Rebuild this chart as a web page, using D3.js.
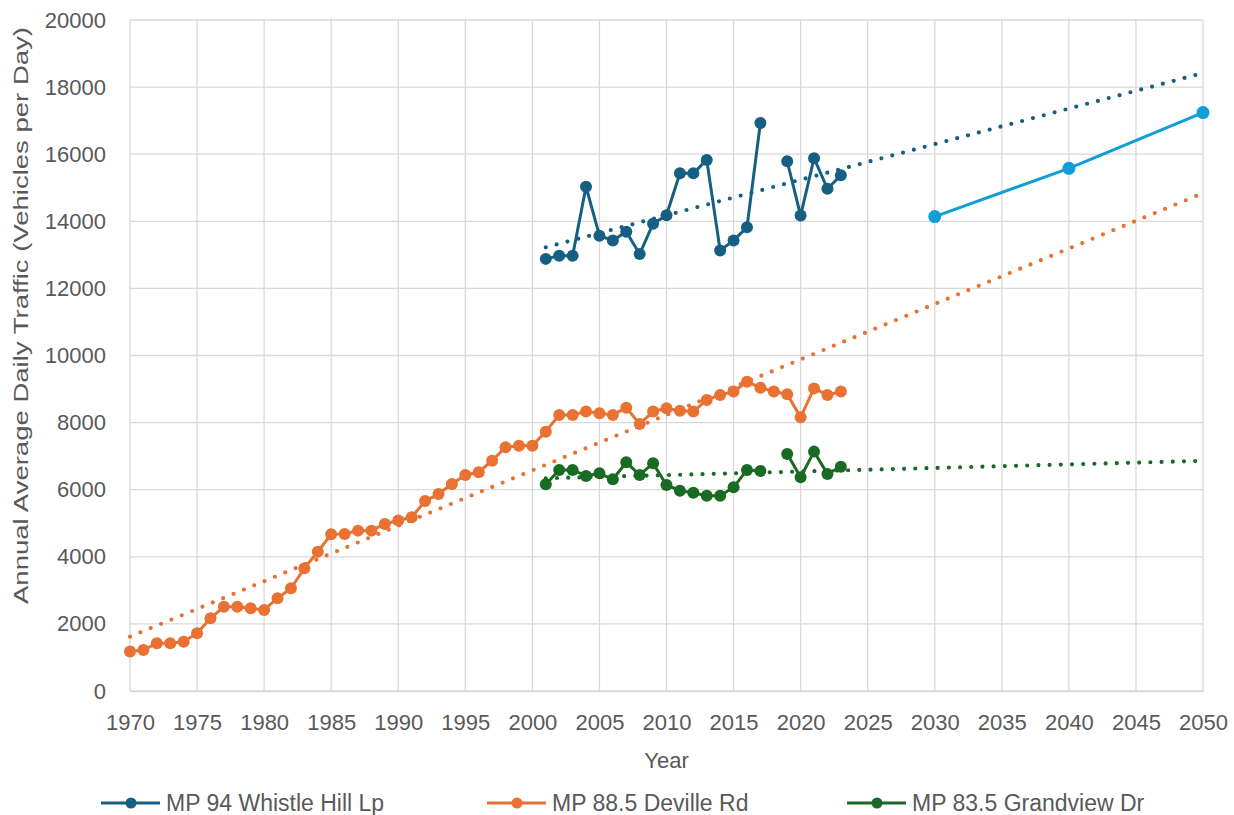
<!DOCTYPE html>
<html>
<head>
<meta charset="utf-8">
<script src="https://cdn.jsdelivr.net/npm/d3@7"></script>
<style>
  html, body { margin: 0; padding: 0; background: #ffffff; }
  svg text { font-family: "Liberation Sans", Arial, sans-serif; fill: #595959; }
</style>
</head>
<body>
<svg id="chart" width="1234" height="815"></svg>
<script>
// ---------- DATA ----------
const blueYears = [2001,2002,2003,2004,2005,2006,2007,2008,2009,2010,2011,2012,2013,2014,2015,2016,2017,2018,2019,2020,2021,2022,2023];
const blueValues = [12880,12975,12975,15030,13570,13430,13690,13025,13930,14180,15430,15430,15830,13130,13430,13820,16930,null,15790,14170,15880,14970,15370];

const orangeYears = [1970,1971,1972,1973,1974,1975,1976,1977,1978,1979,
                     1980,1981,1982,1983,1984,1985,1986,1987,1988,1989,
                     1990,1991,1992,1993,1994,1995,1996,1997,1998,1999,
                     2000,2001,2002,2003,2004,2005,2006,2007,2008,2009,
                     2010,2011,2012,2013,2014,2015,2016,2017,2018,2019,
                     2020,2021,2022,2023];
const orangeValues = [1180,1222,1420,1420,1470,1720,2170,2510,2510,2465,
                      2415,2765,3060,3660,4150,4670,4680,4780,4780,4980,
                      5080,5180,5660,5870,6170,6440,6520,6865,7265,7310,
                      7310,7730,8230,8230,8330,8280,8230,8445,7960,8330,
                      8430,8350,8330,8675,8825,8925,9220,9040,8925,8845,
                      8160,9020,8825,8925];

const greenYears = [2001,2002,2003,2004,2005,2006,2007,2008,2009,2010,2011,2012,2013,2014,2015,2016,2017,2018,2019,2020,2021,2022,2023];
const greenValues = [6160,6590,6590,6410,6490,6310,6815,6440,6785,6140,5970,5910,5820,5820,6070,6590,6560,null,7065,6370,7135,6470,6685];

const forecastYears = [2030,2040,2050];
const forecastValues = [14140,15580,17240];

// trendline end points (as drawn in the reference)
const blueTrendYears = [2001,2050];
const blueTrendValues = [13225,18420];
const orangeTrendYears = [1970,2050];
const orangeTrendValues = [1620,14840];
const greenTrendYears = [2001,2050];
const greenTrendValues = [6340,6860];

const xTicks = [1970,1975,1980,1985,1990,1995,2000,2005,2010,2015,2020,2025,2030,2035,2040,2045,2050];
const yTicks = [0,2000,4000,6000,8000,10000,12000,14000,16000,18000,20000];

const seriesNames = ["MP 94 Whistle Hill Lp","MP 88.5 Deville Rd","MP 83.5 Grandview Dr"];

// ---------- STYLE ----------
const C_BLUE = "#156082", C_ORANGE = "#E97132", C_GREEN = "#196B24", C_LBLUE = "#0F9ED5";
const GRID = "#d9d9d9";

const svg = d3.select("#chart");
const L = 130, R = 1203, T = 20, B = 691;

const x = d3.scaleLinear().domain([1970, 2050]).range([L, R]);
const y = d3.scaleLinear().domain([0, 20000]).range([B, T]);

// gridlines
const g = svg.append("g");
g.selectAll("line.v").data(xTicks).join("line")
  .attr("x1", d => x(d)).attr("x2", d => x(d))
  .attr("y1", T).attr("y2", B)
  .attr("stroke", GRID).attr("stroke-width", 1.3);
g.selectAll("line.h").data(yTicks).join("line")
  .attr("x1", L).attr("x2", R)
  .attr("y1", d => y(d)).attr("y2", d => y(d))
  .attr("stroke", GRID).attr("stroke-width", 1.3);

// axes (labels only)
const xAxis = d3.axisBottom(x).tickValues(xTicks).tickFormat(d3.format("d")).tickSize(0).tickPadding(23);
const xg = svg.append("g").attr("transform", `translate(0,${B})`).call(xAxis);
xg.select(".domain").attr("stroke", GRID).attr("stroke-width", 1.3);
xg.selectAll("text").style("font-size", "22px").attr("fill", "#595959");

const yAxis = d3.axisLeft(y).tickValues(yTicks).tickFormat(d3.format("d")).tickSize(0).tickPadding(24);
const yg = svg.append("g").attr("transform", `translate(${L},0)`).call(yAxis);
yg.select(".domain").remove();
yg.selectAll("text").style("font-size", "22px").attr("fill", "#595959");

// axis titles
svg.append("text").attr("x", (L + R) / 2).attr("y", 768).attr("text-anchor", "middle")
  .style("font-size", "22px").text("Year");
svg.append("text")
  .attr("transform", `translate(28,${(27 + 604) / 2}) rotate(-90)`)
  .attr("text-anchor", "middle")
  .attr("textLength", 577).attr("lengthAdjust", "spacingAndGlyphs")
  .style("font-size", "21px").text("Annual Average Daily Traffic (Vehicles per Day)");

// helpers
function zip(xs, vs) { return xs.map((d, i) => ({ x: d, v: vs[i] })); }
const line = d3.line().defined(d => d.v !== null).x(d => x(d.x)).y(d => y(d.v));

function drawSeries(data, color, r) {
  svg.append("path").datum(data).attr("d", line)
    .attr("fill", "none").attr("stroke", color).attr("stroke-width", 3)
    .attr("stroke-linejoin", "round");
  svg.append("g").selectAll("circle").data(data.filter(d => d.v !== null)).join("circle")
    .attr("cx", d => x(d.x)).attr("cy", d => y(d.v)).attr("r", r).attr("fill", color);
}
function drawTrend(data, color) {
  svg.append("path").datum(data).attr("d", line)
    .attr("fill", "none").attr("stroke", color).attr("stroke-width", 4.2)
    .attr("stroke-linecap", "round").attr("stroke-dasharray", "0 11.2");
}

drawSeries(zip(blueYears, blueValues), C_BLUE, 6);
drawSeries(zip(orangeYears, orangeValues), C_ORANGE, 6);
drawSeries(zip(greenYears, greenValues), C_GREEN, 6);
drawSeries(zip(forecastYears, forecastValues), C_LBLUE, 6.5);

drawTrend(zip(blueTrendYears, blueTrendValues), C_BLUE);
drawTrend(zip(orangeTrendYears, orangeTrendValues), C_ORANGE);
drawTrend(zip(greenTrendYears, greenTrendValues), C_GREEN);

// legend
const legendItems = [
  { name: seriesNames[0], color: C_BLUE, x0: 101 },
  { name: seriesNames[1], color: C_ORANGE, x0: 487 },
  { name: seriesNames[2], color: C_GREEN, x0: 847 }
];
const ly = 803;
const lg = svg.append("g").selectAll("g").data(legendItems).join("g")
  .attr("transform", d => `translate(${d.x0},${ly})`);
lg.append("line").attr("x1", 0).attr("x2", 59).attr("y1", 0).attr("y2", 0)
  .attr("stroke", d => d.color).attr("stroke-width", 3);
lg.append("circle").attr("cx", 30).attr("cy", 0).attr("r", 5.5).attr("fill", d => d.color);
lg.append("text").attr("x", 65).attr("y", 0).attr("dy", "0.35em")
  .style("font-size", "23px").text(d => d.name);
</script>
</body>
</html>
